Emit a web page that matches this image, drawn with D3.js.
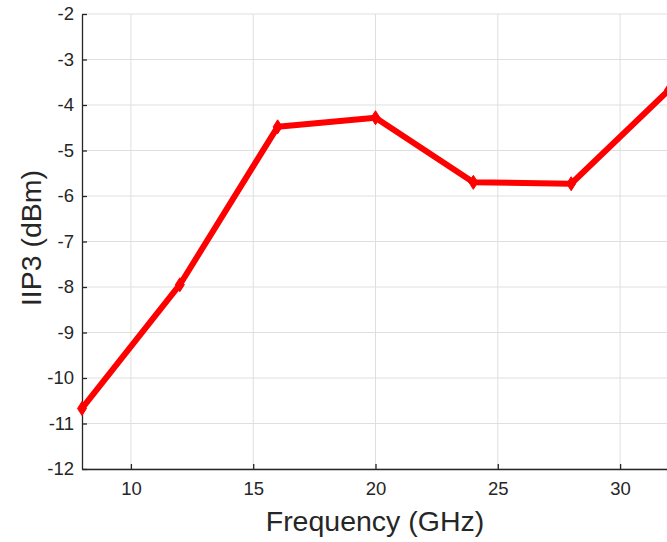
<!DOCTYPE html>
<html>
<head>
<meta charset="utf-8">
<script src="https://cdn.jsdelivr.net/npm/d3@7"></script>
<style>
  body { margin: 0; background: #fff; }
  svg { font-family: "Liberation Sans", Arial, sans-serif; }
</style>
</head>
<body>
<div id="chart-area"></div>
<script>
// Data
const freq = [8, 12, 16, 20, 24, 28, 32]
const iip3 = [-10.67, -7.95, -4.48, -4.28, -5.70, -5.73, -3.67]
const xTicks = [10, 15, 20, 25, 30]
const yTicks = [-12, -11, -10, -9, -8, -7, -6, -5, -4, -3, -2]

// Sizing
const MARGIN = { LEFT: 82, RIGHT: -2, TOP: 14, BOTTOM: 73 }
const WIDTH = 667 - MARGIN.LEFT - MARGIN.RIGHT
const HEIGHT = 542 - MARGIN.TOP - MARGIN.BOTTOM

const svg = d3.select('#chart-area').append('svg')
	.attr('width', 667)
	.attr('height', 542)

const g = svg.append('g')
	.attr('transform', `translate(${MARGIN.LEFT}, ${MARGIN.TOP})`)

const x = d3.scaleLinear()
	.domain([8, 32])
	.range([0, WIDTH])

const y = d3.scaleLinear()
	.domain([-12, -2])
	.range([HEIGHT, 0])

// grid
g.append('g')
	.selectAll('line')
	.data(xTicks)
	.enter().append('line')
	.attr('x1', d => x(d)).attr('x2', d => x(d))
	.attr('y1', 0).attr('y2', HEIGHT)
	.attr('stroke', '#dfdfdf')
	.attr('stroke-width', 1)

g.append('g')
	.selectAll('line')
	.data(yTicks)
	.enter().append('line')
	.attr('x1', 0).attr('x2', WIDTH)
	.attr('y1', d => y(d)).attr('y2', d => y(d))
	.attr('stroke', '#dfdfdf')
	.attr('stroke-width', 1)

// axes
const xAxisCall = d3.axisBottom(x)
	.tickValues(xTicks)
	.tickFormat(d => String(d))
	.tickSizeInner(-5)
	.tickSizeOuter(0)
	.tickPadding(13)
const xAxisGroup = g.append('g')
	.attr('transform', `translate(0, ${HEIGHT})`)
	.call(xAxisCall)

const yAxisCall = d3.axisLeft(y)
	.tickValues(yTicks)
	.tickFormat(d => String(d))
	.tickSizeInner(-5)
	.tickSizeOuter(0)
	.tickPadding(8)
const yAxisGroup = g.append('g')
	.call(yAxisCall)

;[xAxisGroup, yAxisGroup].forEach(ag => {
	ag.attr('font-size', null).attr('font-family', null)
	ag.select('.domain').attr('stroke', '#262626').attr('stroke-width', 1.3)
	ag.selectAll('.tick line').attr('stroke', '#262626').attr('stroke-width', 1.3)
	ag.selectAll('.tick text')
		.attr('fill', '#262626')
		.style('font-size', '18.5px')
		.style('font-family', '"Liberation Sans", Arial, sans-serif')
})

// line
const line = d3.line()
	.x(d => x(d[0]))
	.y(d => y(d[1]))

const pts = freq.map((f, i) => [f, iip3[i]])

g.append('path')
	.datum(pts)
	.attr('fill', 'none')
	.attr('stroke', '#ff0000')
	.attr('stroke-width', 6)
	.attr('stroke-linejoin', 'round')
	.attr('d', line)

g.selectAll('.marker')
	.data(pts)
	.enter().append('path')
	.attr('class', 'marker')
	.attr('transform', d => `translate(${x(d[0])}, ${y(d[1])})`)
	.attr('d', 'M0,-7 L4.5,0 L0,7 L-4.5,0 Z')
	.attr('fill', '#ff0000')
	.attr('stroke', '#ff0000')
	.attr('stroke-width', 1)

// labels
svg.append('text')
	.attr('x', 375)
	.attr('y', 531)
	.attr('text-anchor', 'middle')
	.style('font-size', '28.5px')
	.attr('fill', '#262626')
	.text('Frequency (GHz)')

svg.append('text')
	.attr('transform', `translate(41, 238) rotate(-90)`)
	.attr('text-anchor', 'middle')
	.style('font-size', '28.5px')
	.attr('fill', '#262626')
	.text('IIP3 (dBm)')
</script>
</body>
</html>
